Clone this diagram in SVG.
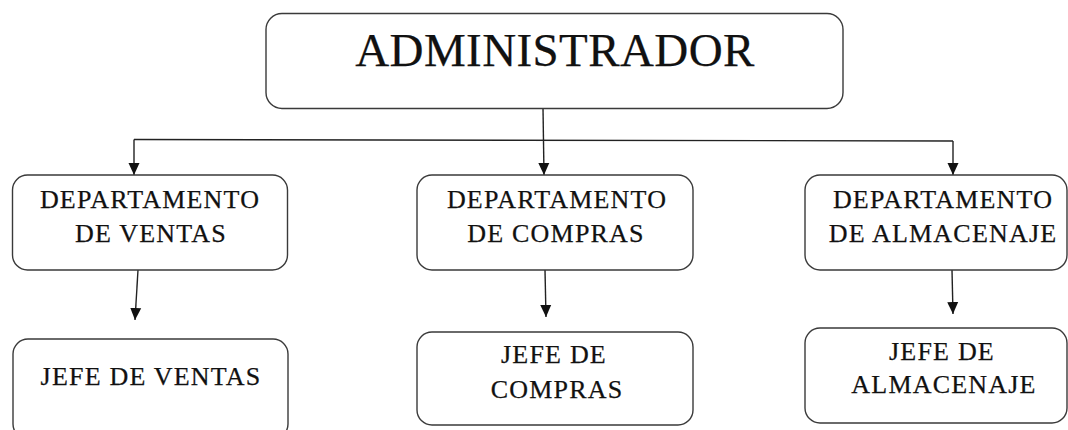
<svg xmlns="http://www.w3.org/2000/svg" width="1068" height="430" viewBox="0 0 1068 430">
<style>
.box{fill:#fff;stroke:#3a3a3a;stroke-width:1.4}
.t{font-family:"Liberation Serif","Times New Roman",serif;fill:#111;stroke:#111;stroke-width:0.25;text-anchor:middle}
.s{font-size:26px;letter-spacing:1.2px}
.big{font-size:47px;letter-spacing:0.4px}
.c{fill:none;stroke:#222;stroke-width:1.4}
</style>
<defs>
<marker id="ah" markerUnits="userSpaceOnUse" markerWidth="14" markerHeight="14" viewBox="0 0 14 14" refX="12" refY="7" orient="auto">
<path d="M0,1.5 L12,7 L0,12.5 Z" fill="#111"/>
</marker>
</defs>
<rect width="1068" height="430" fill="#fff"/>
<g id="connectors">
<line class="c" x1="543" y1="108" x2="544" y2="175" marker-end="url(#ah)"/>
<line class="c" x1="134" y1="139.5" x2="953" y2="141"/>
<line class="c" x1="134" y1="139.5" x2="134" y2="175" marker-end="url(#ah)"/>
<line class="c" x1="953" y1="141" x2="953" y2="175" marker-end="url(#ah)"/>
<line class="c" x1="138" y1="270" x2="135" y2="320" marker-end="url(#ah)"/>
<line class="c" x1="545" y1="270" x2="546" y2="317" marker-end="url(#ah)"/>
<line class="c" x1="952" y1="270" x2="953" y2="314" marker-end="url(#ah)"/>
</g>
<g id="administrador">
<rect class="box" x="266" y="13.5" width="577" height="95" rx="16"/>
<text class="t big" x="555" y="66">ADMINISTRADOR</text>
</g>
<g id="dep-ventas">
<rect class="box" x="12.5" y="175" width="275" height="95" rx="15"/>
<text class="t s" x="150" y="208">DEPARTAMENTO</text>
<text class="t s" x="151" y="242">DE VENTAS</text>
</g>
<g id="dep-compras">
<rect class="box" x="417" y="175" width="276" height="95" rx="15"/>
<text class="t s" x="557" y="208">DEPARTAMENTO</text>
<text class="t s" x="556" y="242">DE COMPRAS</text>
</g>
<g id="dep-almacenaje">
<rect class="box" x="805" y="175" width="262" height="95" rx="15"/>
<text class="t s" x="943" y="208">DEPARTAMENTO</text>
<text class="t s" x="943" y="242">DE ALMACENAJE</text>
</g>
<g id="jefe-ventas">
<rect class="box" x="13" y="339" width="275" height="100" rx="15"/>
<text class="t s" x="151" y="385">JEFE DE VENTAS</text>
</g>
<g id="jefe-compras">
<rect class="box" x="417" y="332" width="276" height="93" rx="15"/>
<text class="t s" x="554" y="363">JEFE DE</text>
<text class="t s" x="557" y="398">COMPRAS</text>
</g>
<g id="jefe-almacenaje">
<rect class="box" x="805" y="328" width="262" height="95" rx="15"/>
<text class="t s" x="942" y="360">JEFE DE</text>
<text class="t s" x="944" y="393">ALMACENAJE</text>
</g>
</svg>
